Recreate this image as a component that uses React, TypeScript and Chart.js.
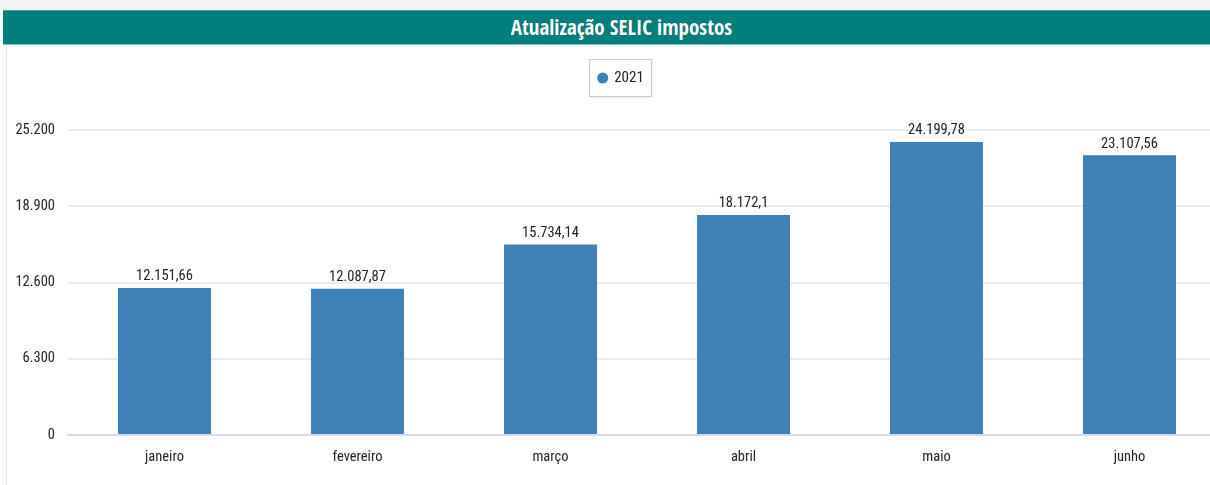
import React, { useEffect, useRef } from "react";
import { Chart, registerables } from "chart.js";

Chart.register(...registerables);

const TITLE = "Atualização SELIC impostos";
const SERIES_LABEL = "2021";
const CATEGORIES = ["janeiro", "fevereiro", "março", "abril", "maio", "junho"];
const VALUES = [12151.66, 12087.87, 15734.14, 18172.1, 24199.78, 23107.56];
const Y_MAX = 25200;
const Y_STEP = 6300;

const BAR_COLOR = "#3d81b7";
const FONT = "'Roboto Condensed', 'Liberation Sans', sans-serif";
const TITLE_FONT = "'Open Sans Condensed', 'Roboto Condensed', sans-serif";
const TEXT_SIZE = 14.5;

function fmt(v: number, decimals: number): string {
  const neg = v < 0;
  const abs = Math.abs(v);
  const s = abs.toFixed(decimals);
  let [int, dec] = s.split(".");
  int = int.replace(/\B(?=(\d{3})+(?!\d))/g, ".");
  if (dec) dec = dec.replace(/0+$/, "");
  return (neg ? "-" : "") + int + (dec ? "," + dec : "");
}

const valueLabels = {
  id: "valueLabels",
  afterDatasetsDraw(chart: any) {
    const ctx = chart.ctx;
    ctx.save();
    ctx.font = `${TEXT_SIZE}px ${FONT}`;
    ctx.fillStyle = "#222";
    ctx.textAlign = "center";
    ctx.textBaseline = "bottom";
    chart.data.datasets.forEach((ds: any, di: number) => {
      const meta = chart.getDatasetMeta(di);
      meta.data.forEach((bar: any, i: number) => {
        ctx.fillText(fmt(ds.data[i], 2), bar.x, bar.y - 4);
      });
    });
    ctx.restore();
  },
};

const boxLegend = {
  id: "boxLegend",
  afterDraw(chart: any) {
    const ctx = chart.ctx;
    const ds = chart.data.datasets[0];
    ctx.save();
    ctx.font = `15px ${FONT}`;
    const tw = ctx.measureText(ds.label).width;
    const w = 62;
    const h = 37;
    const cx = 620;
    const x = Math.round(cx - w / 2) + 0.5;
    const y = 14.5;
    ctx.fillStyle = "#e4e4e4";
    ctx.fillRect(x + 1, y + 1, w, h);
    ctx.fillStyle = "#ffffff";
    ctx.fillRect(x, y, w, h);
    ctx.strokeStyle = "#cccccc";
    ctx.lineWidth = 1;
    ctx.strokeRect(x, y, w, h);
    const cy = y + h / 2;
    const startX = x + (w - (11 + 6 + tw)) / 2;
    ctx.fillStyle = ds.backgroundColor;
    ctx.beginPath();
    ctx.arc(startX + 5.5, cy, 5.5, 0, Math.PI * 2);
    ctx.fill();
    ctx.fillStyle = "#222";
    ctx.textAlign = "left";
    ctx.textBaseline = "middle";
    ctx.fillText(ds.label, startX + 17, cy);
    ctx.restore();
  },
};

export default function App() {
  const ref = useRef<HTMLCanvasElement | null>(null);

  useEffect(() => {
    if (!ref.current) return;
    const chart = new Chart(ref.current, {
      type: "bar",
      data: {
        labels: CATEGORIES,
        datasets: [
          {
            label: SERIES_LABEL,
            data: VALUES,
            backgroundColor: BAR_COLOR,
            borderWidth: 0,
            categoryPercentage: 1,
            barPercentage: 0.482,
          },
        ],
      },
      options: {
        animation: false,
        responsive: false,
        maintainAspectRatio: false,
        layout: { padding: { top: 85, right: 6, left: 0, bottom: 0 } },
        plugins: {
          legend: { display: false },
          tooltip: { enabled: false },
          title: { display: false },
        },
        scales: {
          x: {
            grid: { display: false, drawTicks: false },
            border: { display: true, color: "#d6daec", width: 2 },
            ticks: {
              color: "#222",
              font: { family: FONT, size: TEXT_SIZE },
              padding: 14,
              maxRotation: 0,
            },
            afterFit(scale: any) {
              scale.height = 50;
            },
          },
          y: {
            min: 0,
            max: Y_MAX,
            grid: {
              color: (c: any) => (c.tick && c.tick.value === 0 ? "rgba(0,0,0,0)" : "#ececec"),
              lineWidth: 2,
              drawTicks: false,
            },
            border: { display: false },
            ticks: {
              stepSize: Y_STEP,
              color: "#222",
              font: { family: FONT, size: TEXT_SIZE },
              padding: 13,
              callback: (v: any) => fmt(Number(v), 0),
            },
            afterFit(scale: any) {
              scale.width = 68;
            },
          },
        },
      },
      plugins: [valueLabels, boxLegend],
    });
    return () => chart.destroy();
  }, []);

  return (
    <div
      style={{
        position: "fixed",
        left: 0,
        top: 0,
        width: 1210,
        height: 485,
        overflow: "hidden",
        background: "#ffffff",
      }}
    >
      <div style={{ position: "absolute", left: 0, top: 0, width: 1210, height: 10, background: "#f2f2f2" }} />
      <div
        style={{
          position: "absolute",
          left: 6,
          top: 45,
          width: 1210,
          height: 440,
          borderLeft: "1px solid #e4e4e4",
        }}
      />
      <div
        style={{
          position: "absolute",
          left: 3,
          top: 10,
          width: 1207,
          height: 35,
          background: "#007f7c",
          borderTop: "1px solid #4aa3a0",
          borderBottom: "1px solid #7cc4c1",
          color: "#ffffff",
          fontFamily: TITLE_FONT,
          fontWeight: "bold",
          fontSize: 21,
          lineHeight: "33px",
          textAlign: "center",
          paddingLeft: 30,
          boxSizing: "border-box",
          textShadow: "0 0 1px rgba(0,60,60,0.6)",
        }}
      >
        {TITLE}
      </div>
      <canvas
        ref={ref}
        width={1232}
        height={440}
        style={{ position: "absolute", left: 0, top: 45, width: 1232, height: 440 }}
      />
    </div>
  );
}
